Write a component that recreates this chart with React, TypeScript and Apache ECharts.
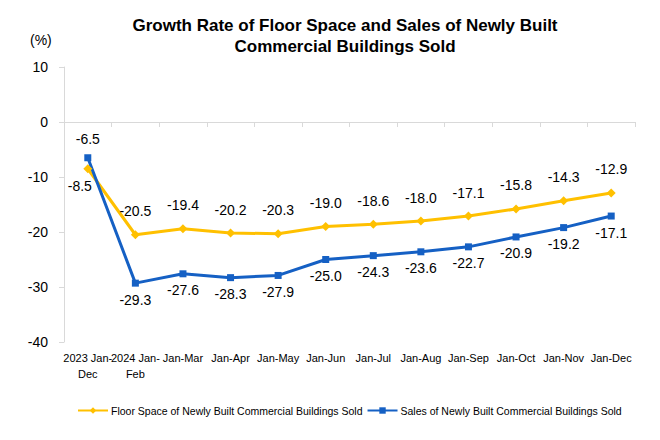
import React, { useEffect, useRef } from "react";
import * as echarts from "echarts";

const categories = ["2023 Jan-\nDec", "2024 Jan-\nFeb", "Jan-Mar", "Jan-Apr", "Jan-May", "Jan-Jun", "Jan-Jul", "Jan-Aug", "Jan-Sep", "Jan-Oct", "Jan-Nov", "Jan-Dec"];
const floorSpace = [-8.5, -20.5, -19.4, -20.2, -20.3, -19.0, -18.6, -18.0, -17.1, -15.8, -14.3, -12.9];
const sales = [-6.5, -29.3, -27.6, -28.3, -27.9, -25.0, -24.3, -23.6, -22.7, -20.9, -19.2, -17.1];
const yTicks = { min: -40, max: 10, interval: 10 };

const FONT = "'Liberation Sans', Arial, sans-serif";

export default function App() {
  const ref = useRef<HTMLDivElement>(null);
  useEffect(() => {
    document.body.style.margin = "0";
    if (!ref.current) return;
    const chart = echarts.init(ref.current, null, { renderer: "svg" });
    const fmt = (p: any) => Number(p.value).toFixed(1);
    const floorData = floorSpace.map((v, i) =>
      i === 0
        ? { value: v, label: { position: "bottom", distance: 6, offset: [-8, 0] } }
        : { value: v }
    );
    const salesData = sales.map((v, i) =>
      i === 0 ? { value: v, label: { position: "top", distance: 8 } } : { value: v }
    );
    chart.setOption({
      animation: false,
      backgroundColor: "#ffffff",
      title: {
        text: "Growth Rate of Floor Space and Sales of Newly Built\nCommercial Buildings Sold",
        left: 340,
        top: 10,
        textAlign: "center",
        textStyle: { fontFamily: FONT, fontSize: 17, fontWeight: "bold", color: "#000", lineHeight: 21 },
      },
      graphic: [
        { type: "text", left: 30, top: 33, style: { text: "(%)", font: `14px ${FONT}`, fill: "#000" } },
      ],
      grid: { left: 64, right: 25, top: 67, bottom: 98, containLabel: false },
      legend: {
        top: 400,
        left: 72,
        itemWidth: 30,
        itemHeight: 8,
        itemGap: 4,
        textStyle: { fontFamily: FONT, fontSize: 10.5, color: "#000", padding: [0, 0, 0, -2] },
        data: ["Floor Space of Newly Built Commercial Buildings Sold", "Sales of Newly Built Commercial Buildings Sold"],
      },
      xAxis: {
        type: "category",
        data: categories,
        boundaryGap: true,
        axisLine: { show: true, lineStyle: { color: "#d9d9d9" } },
        axisTick: { show: true, lineStyle: { color: "#d9d9d9" } },
        axisLabel: { interval: 0, fontFamily: FONT, fontSize: 11, color: "#000", lineHeight: 16, margin: 8 },
        splitLine: { show: false },
      },
      yAxis: {
        type: "value",
        min: yTicks.min,
        max: yTicks.max,
        interval: yTicks.interval,
        axisLine: { show: true, lineStyle: { color: "#d9d9d9" } },
        axisTick: { show: true, lineStyle: { color: "#d9d9d9" } },
        axisLabel: { fontFamily: FONT, fontSize: 14, color: "#000", margin: 16 },
        splitLine: { show: false },
      },
      series: [
        {
          name: "Floor Space of Newly Built Commercial Buildings Sold",
          type: "line",
          data: floorData,
          symbol: "diamond",
          symbolSize: 9,
          color: "#FFC000",
          lineStyle: { width: 3, color: "#FFC000" },
          itemStyle: { color: "#FFC000" },
          label: { show: true, position: "top", distance: 12, formatter: fmt, fontFamily: FONT, fontSize: 14, color: "#000" },
        },
        {
          name: "Sales of Newly Built Commercial Buildings Sold",
          type: "line",
          data: salesData,
          symbol: "rect",
          symbolSize: 7,
          color: "#1560C4",
          lineStyle: { width: 3, color: "#1560C4" },
          itemStyle: { color: "#1560C4" },
          label: { show: true, position: "bottom", distance: 6, formatter: fmt, fontFamily: FONT, fontSize: 14, color: "#000" },
        },
      ],
    });
    return () => chart.dispose();
  }, []);
  return <div ref={ref} style={{ width: 660, height: 440 }} />;
}
